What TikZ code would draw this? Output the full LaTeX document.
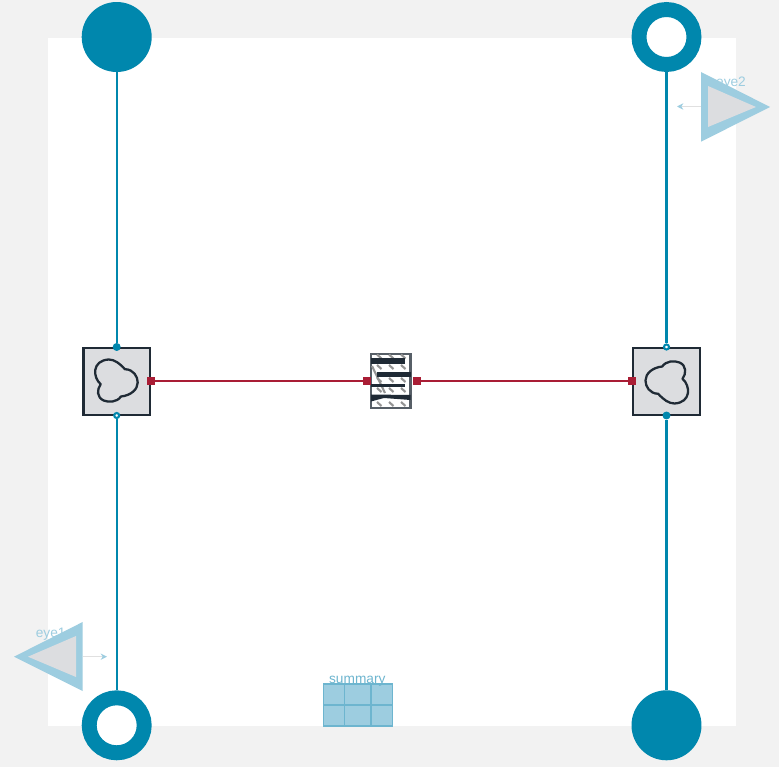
\documentclass[tikz,border=0pt]{standalone}
\usepackage{xcolor}
\usepackage{fontspec}
\setmainfont{Liberation Sans}
\usetikzlibrary{arrows.meta}
\definecolor{flangeblue}{HTML}{0087AD}
\definecolor{eyeblue}{HTML}{9DCDE0}
\definecolor{gridblue}{HTML}{6DB5CF}
\definecolor{portred}{HTML}{A91D35}
\definecolor{bodygray}{HTML}{DCDDE0}
\definecolor{bodydark}{HTML}{1F2A35}
\definecolor{pagegray}{HTML}{F2F2F2}

\begin{document}
\begin{tikzpicture}[x=0.02cm, y=-0.02cm,
    flange/.style={circle, fill=flangeblue, minimum size=1.4cm, inner sep=0pt},
    flangeopen/.style={circle, draw=flangeblue, line width=8.5pt, fill=white,
                 minimum size=1.1cm, inner sep=0pt},
    fixedbox/.style={draw=bodydark, line width=1.3pt, fill=bodygray,
                 minimum size=1.33cm, inner sep=0pt},
    hatchbox/.style={draw=bodydark!75, line width=1.2pt, fill=white,
                 minimum width=0.79cm, minimum height=1.09cm, inner sep=0pt},
    redport/.style={fill=portred, minimum size=0.16cm, inner sep=0pt},
    dotport/.style={circle, fill=flangeblue, minimum size=0.16cm, inner sep=0pt},
    dotopen/.style={circle, draw=flangeblue, line width=1.2pt, fill=white,
                 minimum size=0.1cm, inner sep=0pt},
    blueline/.style={draw=flangeblue, line width=1.25pt},
    redline/.style={draw=portred, line width=1.2pt},
    hatchline/.style={draw=black!42, line width=1.2pt},
    eyearrow/.style={draw=black!12, line width=0.7pt,
                 -{Stealth[color=eyeblue, length=3.6pt, width=3.6pt]}},
    eyelabel/.style={text=eyeblue, font=\fontsize{7.8}{9}\selectfont},
    lobes/.pic={
      \draw[bodydark, line width=1.3pt, line join=round]
        (-16,2.7) .. controls (-24,-4) and (-25,-21) .. (-8,-22)
        .. controls (-2,-22) and (3,-18) .. (8.3,-12.3)
        .. controls (17,-12) and (21,-5) .. (21,1)
        .. controls (21,8) and (14,14) .. (4.3,15)
        .. controls (0,21) and (-8,21) .. (-13,19)
        .. controls (-20,16) and (-20,8) .. (-16,2.7) -- cycle;
    }]
  \fill[pagegray] (0,0) rectangle (779,767);
  \fill[white] (48,38) rectangle (736,726);

  % flanges at the corners
  \node[flange] (flangeTL) at (116.7,37) {};
  \node[flangeopen] (flangeTR) at (666.5,37) {};
  \node[flangeopen] (flangeBL) at (116.7,725.3) {};
  \node[flange] (flangeBR) at (666.5,725.3) {};

  % the two bodies
  \node[fixedbox] (bodyL) at (116.7,381.5) {};
  \node[fixedbox] (bodyR) at (666.5,381.5) {};
  \pic at (bodyL) {lobes};
  \pic[rotate=180] at (bodyR) {lobes};

  \node[dotport] (portLa) at (116.7,347) {};
  \node[dotopen] (portLb) at (116.7,415.5) {};
  \node[dotopen] (portRa) at (666.5,347) {};
  \node[dotport] (portRb) at (666.5,415.5) {};
  \draw[blueline] (flangeTL) -- (portLa);
  \draw[blueline] (flangeBL) -- (portLb);
  \draw[blueline] (flangeTR) -- (portRa);
  \draw[blueline] (flangeBR) -- (portRb);

  % spring in the middle
  \node[hatchbox] (spring) at (390.7,381) {};
  \foreach \x in {377,389,401} {
    \foreach \y in {354.5,365,378,388,402} \draw[hatchline] (\x,\y) -- (\x+4.5,\y+4);
  }
  \draw[hatchline] (372,366) -- (385,393);
  \fill[bodydark] (371,358) rectangle (405,364);
  \fill[bodydark] (377,371.7) rectangle (410.5,376.7);
  \fill[bodydark] (371,384) rectangle (405,387.5);
  \fill[bodydark] (371,394.5) -- (410.5,395) -- (410.5,400) -- (384,398) -- (371,401.5) -- cycle;

  \node[redport] (redLa) at (151,381) {};
  \node[redport] (redLb) at (367,381) {};
  \node[redport] (redRa) at (417,381) {};
  \node[redport] (redRb) at (632,381) {};
  \draw[redline] (redLa) -- (redLb);
  \draw[redline] (redRa) -- (redRb);

  % eyes
  \node[eyelabel] (eyeAtext) at (50.7,634) {eye1};
  \node[eyelabel] (eyeBtext) at (731,83) {eye2};
  \fill[eyeblue] (14,656.7) -- (82.7,622) -- (82.7,691) -- cycle;
  \fill[bodygray] (28,656.7) -- (76,636) -- (76,677) -- cycle;
  \fill[eyeblue] (770,107) -- (701,72) -- (701,141.7) -- cycle;
  \fill[bodygray] (756,107) -- (708,86) -- (708,127) -- cycle;
  \coordinate (eyeAout) at (82.7,656.7);
  \coordinate (eyeAend) at (107,656.7);
  \coordinate (eyeBout) at (701,106.5);
  \coordinate (eyeBend) at (677,106.5);
  \draw[eyearrow] (eyeAout) -- (eyeAend);
  \draw[eyearrow] (eyeBout) -- (eyeBend);

  % summary table
  \fill[eyeblue] (323.3,684) rectangle (392.3,726);
  \draw[gridblue, line width=0.7pt] (323.3,684) rectangle (392.3,726)
        (344.3,684) -- (344.3,726) (371,684) -- (371,726) (323.3,705) -- (392.3,705);
  \node[eyelabel, text=gridblue] (sumtext) at (357.3,681) {summary};
\end{tikzpicture}
\end{document}
